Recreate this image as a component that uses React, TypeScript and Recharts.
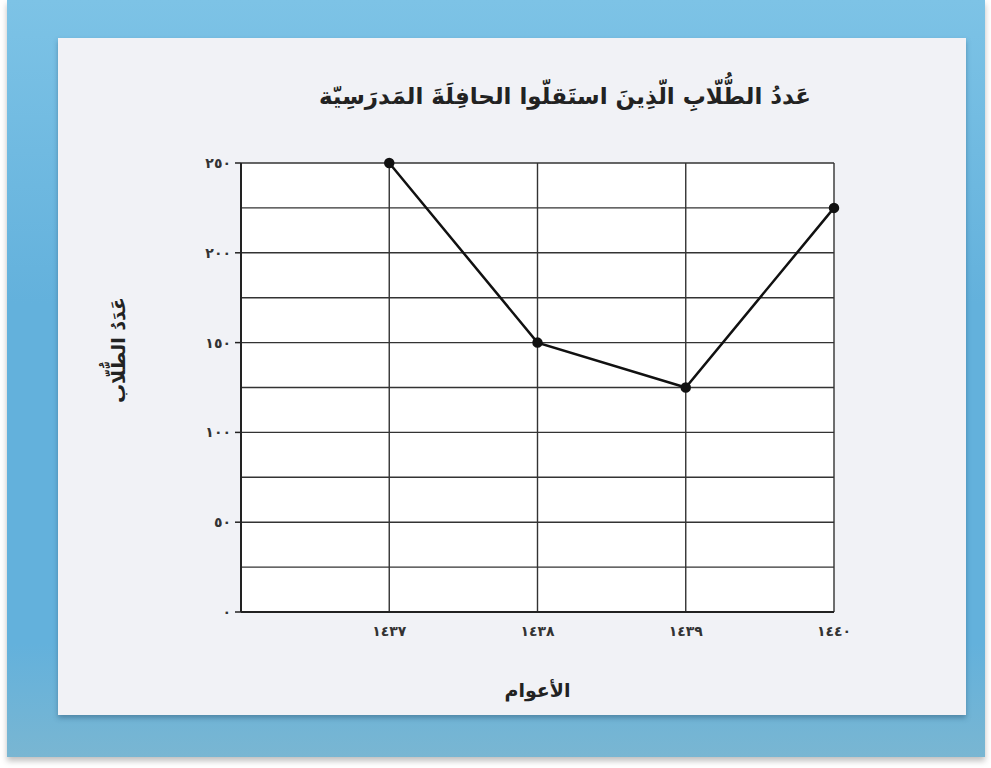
import { LineChart, Line, XAxis, YAxis, CartesianGrid, Label, ReferenceLine } from "recharts";

const years = [1437, 1438, 1439, 1440];
const students = [250, 150, 125, 225];
const yTicks = [0, 50, 100, 150, 200, 250];
const gridTicks = [25, 50, 75, 100, 125, 150, 175, 200, 225, 250];
const xTicks = [1437, 1438, 1439, 1440];

const title = "عَددُ الطُّلّابِ الّذِينَ استَقلّوا الحافِلَةَ المَدرَسِيّة";
const yTitle = "عَدَدُ الطُّلّاب";
const xTitle = "الأعوام";

const data = years.map((y, i) => ({ year: y, value: students[i] }));

const toArabic = (n: number) =>
  String(n).replace(/[0-9]/g, (d) => "٠١٢٣٤٥٦٧٨٩"[Number(d)]);

const font = "'DejaVu Sans', sans-serif";

export default function App() {
  return (
    <div
      style={{
        position: "absolute",
        left: 0,
        top: 0,
        width: 991,
        height: 768,
        background: "#fff",
        fontFamily: font,
      }}
    >
      <div
        style={{
          position: "absolute",
          left: 7,
          top: 0,
          width: 978,
          height: 757,
          background: "linear-gradient(180deg, #7dc3e6 0%, #63b1dc 40%, #63b1dc 85%, #79b6d2 100%)",
          boxShadow: "0 4px 6px rgba(0,0,0,0.25)",
        }}
      />
      <div
        style={{
          position: "absolute",
          left: 58,
          top: 38,
          width: 908,
          height: 677,
          background: "#f1f2f6",
          boxShadow: "0 3px 5px rgba(40,80,110,0.45)",
        }}
      />
      <div
        dir="rtl"
        style={{
          position: "absolute",
          left: 0,
          top: 83,
          width: 1130,
          textAlign: "center",
          fontSize: 23,
          fontWeight: "bold",
          color: "#222",
        }}
      >
        {title}
      </div>
      <div
        dir="rtl"
        style={{
          position: "absolute",
          left: 118 - 100,
          top: 350 - 14,
          width: 200,
          height: 28,
          lineHeight: "28px",
          textAlign: "center",
          fontSize: 19,
          fontWeight: "bold",
          color: "#222",
          transform: "rotate(-90deg)",
        }}
      >
        {yTitle}
      </div>
      <div style={{ position: "absolute", left: 0, top: 0 }}>
        <LineChart
          width={991}
          height={768}
          data={data}
          margin={{ top: 163, right: 157, bottom: 126, left: 181 }}
        >
          <CartesianGrid
            fill="#ffffff"
            stroke="#333"
            strokeWidth={1.4}
            strokeOpacity={1}
            horizontal={false}
          />
          <XAxis
            dataKey="year"
            type="number"
            domain={[1436, 1440]}
            ticks={xTicks}
            tickFormatter={toArabic}
            height={30}
            tickLine={false}
            axisLine={{ stroke: "#222", strokeWidth: 2 }}
            tick={{ fontSize: 14, fontWeight: "bold", fill: "#333", fontFamily: font, letterSpacing: 2 }}
            tickMargin={8}
          >
            <Label
              value={xTitle}
              position="insideBottom"
              offset={-55}
              style={{ fontSize: 19, fontWeight: "bold", fill: "#222", fontFamily: font }}
            />
          </XAxis>
          <YAxis
            domain={[0, 250]}
            ticks={yTicks}
            tickFormatter={toArabic}
            width={60}
            tickSize={6}
            tickLine={{ stroke: "#222", strokeWidth: 1.5 }}
            axisLine={{ stroke: "#222", strokeWidth: 2 }}
            tick={{ fontSize: 14, fontWeight: "bold", fill: "#333", fontFamily: font, letterSpacing: 3 }}
            tickMargin={4}
          />
          {gridTicks.map((t) => (
            <ReferenceLine key={t} y={t} stroke="#333" strokeWidth={1.4} />
          ))}
          <Line
            dataKey="value"
            stroke="#111"
            strokeWidth={2.5}
            dot={{ r: 4, fill: "#111", stroke: "#111" }}
            isAnimationActive={false}
          />
        </LineChart>
      </div>
    </div>
  );
}
